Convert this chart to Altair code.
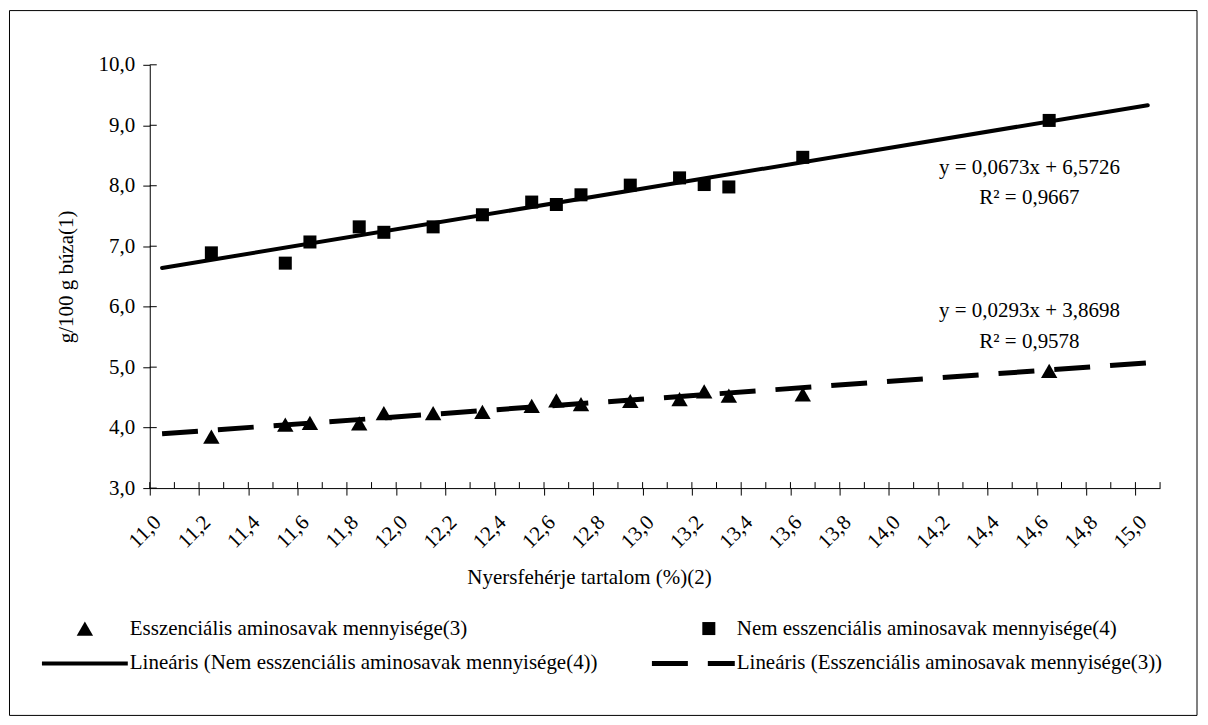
import altair as alt
import pandas as pd

FONT = "Liberation Serif"
FS = 21

# --- data ---
protein = [11.25, 11.55, 11.65, 11.85, 11.95, 12.15, 12.35, 12.55,
           12.65, 12.75, 12.95, 13.15, 13.25, 13.35, 13.65, 14.65]
nem_essz = [6.89, 6.72, 7.07, 7.32, 7.23, 7.32, 7.52, 7.73,
            7.69, 7.85, 8.01, 8.13, 8.02, 7.98, 8.47, 9.08]
essz = [3.85, 4.05, 4.08, 4.07, 4.24, 4.24, 4.26, 4.36,
        4.45, 4.39, 4.44, 4.47, 4.60, 4.53, 4.55, 4.94]

x_ticks = [11.0, 11.1, 11.2, 11.3, 11.4, 11.5, 11.6, 11.7, 11.8, 11.9,
           12.0, 12.1, 12.2, 12.3, 12.4, 12.5, 12.6, 12.7, 12.8, 12.9,
           13.0, 13.1, 13.2, 13.3, 13.4, 13.5, 13.6, 13.7, 13.8, 13.9,
           14.0, 14.1, 14.2, 14.3, 14.4, 14.5, 14.6, 14.7, 14.8, 14.9,
           15.0, 15.1]
y_ticks = [3.0, 4.0, 5.0, 6.0, 7.0, 8.0, 9.0, 10.0]

# trend lines (Excel category-index fits, as printed on the chart)
nem_coef = (0.0673, 6.5726)
essz_coef = (0.0293, 3.8698)
trend_n = [1, 41]            # first and last category index
trend_x = [11.05, 15.05]     # category centres on the protein axis

eq_nem = ["y = 0,0673x + 6,5726", "R² = 0,9667"]
eq_essz = ["y = 0,0293x + 3,8698", "R² = 0,9578"]
eq_x = [14.57, 14.57]
eq_nem_y = [8.29, 7.79]
eq_essz_y = [5.93, 5.42]

lab_essz = "Esszenciális aminosavak mennyisége(3)"
lab_nem = "Nem esszenciális aminosavak mennyisége(4)"
lab_lin_nem = "Lineáris (Nem esszenciális aminosavak mennyisége(4))"
lab_lin_essz = "Lineáris (Esszenciális aminosavak mennyisége(3))"

# --- tables ---
pts = pd.DataFrame({"x": protein, "nem": nem_essz, "essz": essz})
trend = pd.DataFrame({
    "x": trend_x,
    "nem": [nem_coef[0] * n + nem_coef[1] for n in trend_n],
    "essz": [essz_coef[0] * n + essz_coef[1] for n in trend_n],
})
ann = pd.DataFrame({"x": eq_x + eq_x, "y": eq_nem_y + eq_essz_y,
                    "t": eq_nem + eq_essz})
xt = pd.DataFrame({"v": x_ticks})
yt = pd.DataFrame({"v": y_ticks})
one = pd.DataFrame({"k": [0]})

W, H = 1012, 424
xs = alt.Scale(domain=[11.0, 15.1], nice=False, zero=False)
ys = alt.Scale(domain=[3.0, 10.0], nice=False, zero=False)
lbl = "replace(format(datum.value, '.1f'), '.', ',')"

x_axis = alt.Axis(
    values=x_ticks,
    labelExpr=f"round(datum.value*10) % 2 == 0 ? {lbl} : ''",
    labelAngle=-45, labelAlign="right", labelBaseline="top",
    labelOverlap=False, labelFlush=False,
    tickSize=7, labelPadding=16,
    title="Nyersfehérje tartalom (%)(2)",
    titleX=440, titleY=90, titleBaseline="middle", titleAlign="center",
    grid=False,
)
y_axis = alt.Axis(
    values=y_ticks, labelExpr=lbl, tickSize=7, labelPadding=8,
    labelOverlap=False, labelFlush=False,
    title="g/100 g búza(1)", titleX=-83, titleY=212, titleAngle=270,
    titleAlign="center", titleBaseline="middle", grid=False,
)

SQ, TR = 170, 270

base = alt.Chart(pts)

trend_nem = alt.Chart(trend).mark_line(
    color="black", strokeWidth=4, strokeCap="round"
).encode(x=alt.X("x:Q", scale=xs, axis=x_axis),
         y=alt.Y("nem:Q", scale=ys, axis=y_axis))
trend_essz = alt.Chart(trend).mark_line(
    color="black", strokeWidth=5, strokeDash=[36, 20], strokeCap="butt"
).encode(x=alt.X("x:Q", scale=xs), y=alt.Y("essz:Q", scale=ys))

sq = base.mark_point(shape="square", filled=True, size=SQ, color="black",
                     opacity=1).encode(x=alt.X("x:Q", scale=xs),
                                       y=alt.Y("nem:Q", scale=ys))
tri = base.mark_point(shape="triangle-up", filled=True, size=TR,
                      color="black", opacity=1).encode(
    x=alt.X("x:Q", scale=xs), y=alt.Y("essz:Q", scale=ys))

ann_txt = alt.Chart(ann).mark_text(
    font=FONT, fontSize=FS, color="black", align="center", baseline="middle"
).encode(x=alt.X("x:Q", scale=xs), y=alt.Y("y:Q", scale=ys), text="t:N")

# crossing tick marks (inner halves)
xtick_in = alt.Chart(xt).mark_rule(color="black", strokeWidth=1).encode(
    x=alt.X("v:Q", scale=xs), y=alt.value(H - 6), y2=alt.value(H))
ytick_in = alt.Chart(yt).mark_rule(color="black", strokeWidth=1).encode(
    y=alt.Y("v:Q", scale=ys), x=alt.value(0), x2=alt.value(7))

# chart-area frame
frame = alt.Chart(one).mark_rect(
    fillOpacity=0, stroke="black", strokeWidth=1
).encode(x=alt.value(-140.5), x2=alt.value(1049),
         y=alt.value(-54.3), y2=alt.value(651.7))

# legend
r1, r2 = 564.7, 599.7
leg = [
    alt.Chart(one).mark_point(shape="triangle-up", filled=True, size=TR,
                              color="black", opacity=1).encode(
        x=alt.value(-65), y=alt.value(r1)),
    alt.Chart(one).mark_text(text=lab_essz, font=FONT, fontSize=FS,
                             color="black", align="left",
                             baseline="middle").encode(
        x=alt.value(-20), y=alt.value(r1)),
    alt.Chart(one).mark_point(shape="square", filled=True, size=SQ,
                              color="black", opacity=1).encode(
        x=alt.value(560), y=alt.value(r1)),
    alt.Chart(one).mark_text(text=lab_nem, font=FONT, fontSize=FS,
                             color="black", align="left",
                             baseline="middle").encode(
        x=alt.value(588), y=alt.value(r1)),
    alt.Chart(one).mark_rule(color="black", strokeWidth=4).encode(
        x=alt.value(-108), x2=alt.value(-22), y=alt.value(r2)),
    alt.Chart(one).mark_text(text=lab_lin_nem, font=FONT, fontSize=FS,
                             color="black", align="left",
                             baseline="middle").encode(
        x=alt.value(-20), y=alt.value(r2)),
    alt.Chart(one).mark_rule(color="black", strokeWidth=5,
                             strokeDash=[36, 20]).encode(
        x=alt.value(503), x2=alt.value(586), y=alt.value(r2)),
    alt.Chart(one).mark_text(text=lab_lin_essz, font=FONT, fontSize=FS,
                             color="black", align="left",
                             baseline="middle").encode(
        x=alt.value(588), y=alt.value(r2)),
]

chart = alt.layer(
    frame, trend_nem, trend_essz, sq, tri, ann_txt, xtick_in, ytick_in, *leg
).properties(
    width=W, height=H,
    padding={"left": 142, "top": 56.3, "right": 40, "bottom": 230},
    autosize=alt.AutoSizeParams(type="none"),
    background="white",
).configure_view(strokeWidth=0).configure_axis(
    domainColor="black", tickColor="black", labelColor="black",
    titleColor="black", labelFont=FONT, titleFont=FONT,
    labelFontSize=FS, titleFontSize=FS, titleFontWeight="normal",
    domainWidth=1, tickWidth=1,
)

chart.save("out.html", embed_options={"renderer": "svg", "actions": False})
